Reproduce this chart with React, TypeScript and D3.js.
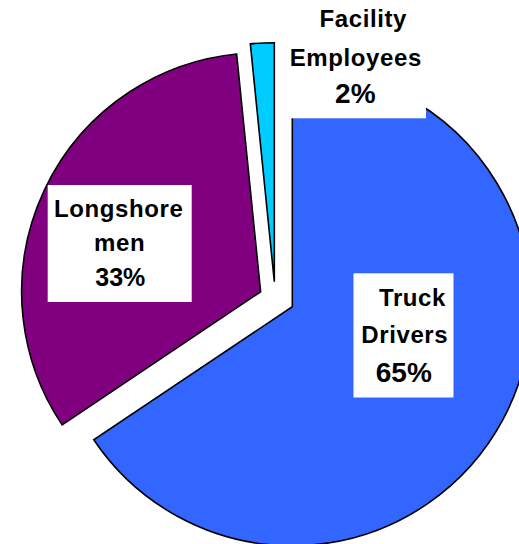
import React from "react";
import * as d3 from "d3";

const categories = ["Truck Drivers", "Longshoremen", "Facility Employees"];
const values = [65.6, 32.8, 1.6];
const percentLabels = ["65%", "33%", "2%"];
const labelLines = [["Truck", "Drivers"], ["Longshore", "men"], ["Facility", "Employees"]];
const colors = ["#3366FF", "#800080", "#00CCFF"];

const W = 519;
const H = 544;
const CX = 292.3;
const CY = 306.7;
const R = 239;
// explosion per slice: distance (px) and direction (deg, clockwise from top; null = slice mid-angle)
const explodeDist = [0, 35, 30.8];
const explodeDir: (number | null)[] = [null, null, 324.3];

// label boxes: [x0, y0, x1, y1]
const boxes = [
  [353.5, 273.3, 453.5, 397.5],
  [47.7, 185, 191.7, 302],
  [286, -2, 426, 118.3],
];
// per-line anchor x and baselines
const lineX = [
  [412.5, 404.8, 403.8],
  [118.7, 119.7, 120.3],
  [363.3, 355.8, 355.3],
];
const lineY = [
  [306, 342.7, 381.7],
  [217.3, 250.7, 286],
  [27.3, 65.7, 103.3],
];
const pctSize = [28, 25, 28];

export default function App() {
  const pie = d3.pie<number>().sort(null).value((d) => d)(values);
  const arc = d3.arc<d3.PieArcDatum<number>>().innerRadius(0).outerRadius(R);
  const font = "'Liberation Sans', Arial, Helvetica, sans-serif";
  return (
    <svg
      width={W}
      height={H}
      style={{ position: "absolute", left: 0, top: 0, background: "#fff" }}
    >
      {pie.map((p, i) => {
        const dirDeg = explodeDir[i] ?? (((p.startAngle + p.endAngle) / 2) * 180) / Math.PI;
        const a = (dirDeg * Math.PI) / 180;
        const dx = explodeDist[i] * Math.sin(a);
        const dy = -explodeDist[i] * Math.cos(a);
        return (
          <path
            key={categories[i]}
            d={arc(p) || ""}
            transform={`translate(${CX + dx},${CY + dy})`}
            fill={colors[i]}
            stroke="#000"
            strokeWidth={1.6}
            strokeLinejoin="miter"
          />
        );
      })}
      {boxes.map((b, i) => (
        <g key={"lab" + i}>
          <rect x={b[0]} y={b[1]} width={b[2] - b[0]} height={b[3] - b[1]} fill="#fff" />
          {labelLines[i].map((t, j) => (
            <text
              key={j}
              x={lineX[i][j]}
              y={lineY[i][j]}
              textAnchor="middle"
              fontFamily={font}
              fontWeight="bold"
              fontSize={24}
              letterSpacing={0.6}
              fill="#000"
            >
              {t}
            </text>
          ))}
          <text
            x={lineX[i][2]}
            y={lineY[i][2]}
            textAnchor="middle"
            fontFamily={font}
            fontWeight="bold"
            fontSize={pctSize[i]}
            fill="#000"
          >
            {percentLabels[i]}
          </text>
        </g>
      ))}
    </svg>
  );
}
